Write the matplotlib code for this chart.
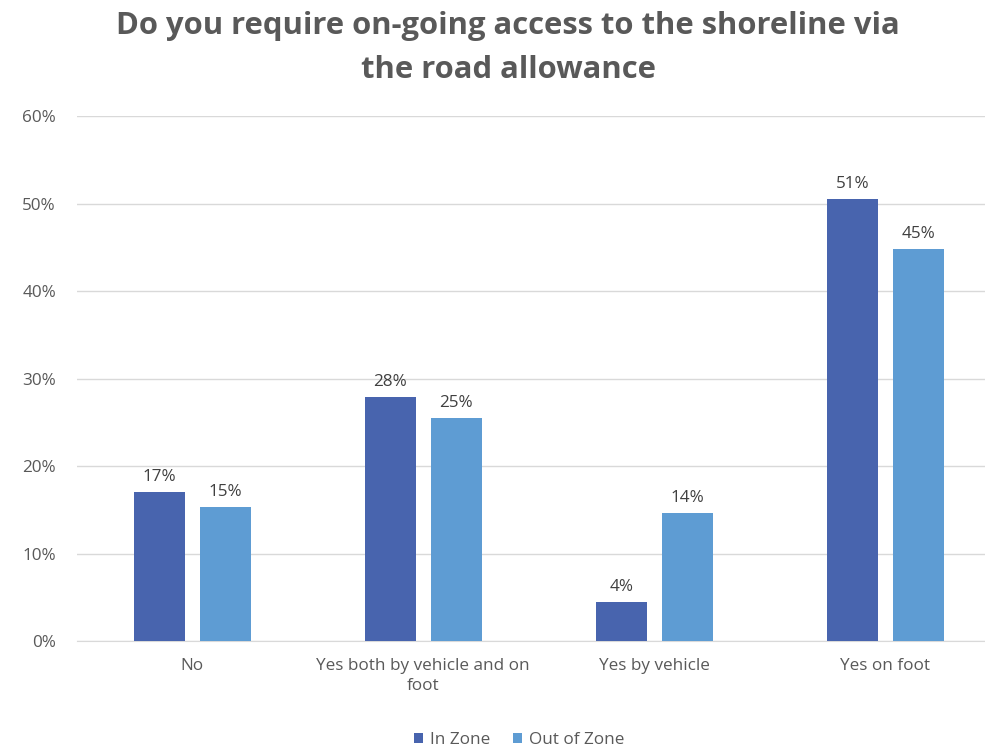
import matplotlib

matplotlib.use("Agg")
import matplotlib.pyplot as plt
import numpy as np
from matplotlib.ticker import PercentFormatter

categories = ["No", "Yes both by vehicle and on\nfoot", "Yes by vehicle", "Yes on foot"]
in_zone = [17.1, 27.9, 4.5, 50.5]
out_zone = [15.3, 25.5, 14.6, 44.8]
in_zone_labels = ["17%", "28%", "4%", "51%"]
out_zone_labels = ["15%", "25%", "14%", "45%"]
series_names = ["In Zone", "Out of Zone"]

DARK = "#4864AE"
LIGHT = "#5E9CD3"
GRID = "#D9D9D9"
TEXT = "#595959"
SMALL = 12.3

plt.rcParams["font.family"] = ["Open Sans", "DejaVu Sans"]

fig = plt.figure(figsize=(9.85, 7.49), dpi=100)
ax = fig.add_axes([0.078, 0.144, 0.938, 0.701])

x = np.arange(len(categories))
width = 0.221
offset = 0.143
b1 = ax.bar(x - offset, in_zone, width, color=DARK, label=series_names[0], zorder=3)
b2 = ax.bar(x + offset, out_zone, width, color=LIGHT, label=series_names[1], zorder=3)
ax.bar_label(b1, labels=in_zone_labels, padding=5, fontsize=SMALL, color="#404040")
ax.bar_label(b2, labels=out_zone_labels, padding=5, fontsize=SMALL, color="#404040")

ax.set_xlim(-0.5, 3.5)
ax.set_ylim(0, 60)
ax.set_yticks(range(0, 61, 10))
ax.yaxis.set_major_formatter(PercentFormatter(decimals=0))
ax.set_xticks(x)
ax.set_xticklabels(categories, linespacing=1.35)
ax.tick_params(axis="both", length=0, labelsize=SMALL, labelcolor=TEXT)
ax.tick_params(axis="y", pad=15)
ax.tick_params(axis="x", pad=12)
ax.grid(axis="y", color=GRID, linewidth=1, zorder=0)
for side in ["top", "right", "left"]:
    ax.spines[side].set_visible(False)
ax.spines["bottom"].set_color(GRID)

fig.suptitle(
    "Do you require on-going access to the shoreline via\nthe road allowance",
    x=0.516, y=0.985, fontsize=22.3, fontweight="bold", color=TEXT, linespacing=1.62,
)

fig.legend(
    loc="lower center", bbox_to_anchor=(0.527, -0.019), ncol=2, frameon=False,
    fontsize=SMALL, labelcolor=TEXT, handlelength=0.55, handleheight=0.55,
    handletextpad=0.4, columnspacing=1.3,
)

fig.savefig("out.png", dpi=100, facecolor="white")
